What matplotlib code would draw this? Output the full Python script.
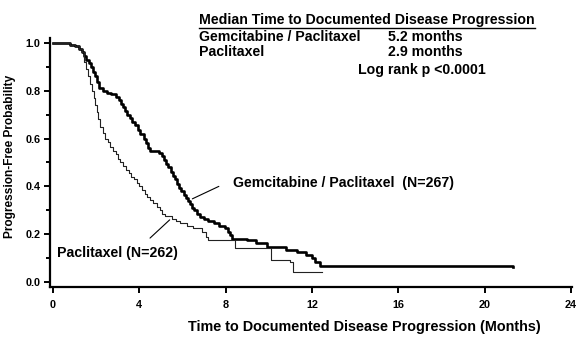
import matplotlib
matplotlib.use("Agg")
import matplotlib.pyplot as plt
from matplotlib.lines import Line2D
from matplotlib.ticker import MultipleLocator

plt.rcParams['font.family'] = ['Liberation Sans', 'DejaVu Sans']
plt.rcParams['font.weight'] = 'bold'

# Kaplan-Meier step curves (month, probability after the step)
gem_t = [0, 0.8, 1.0, 1.2, 1.35, 1.45, 1.55, 1.65, 1.75, 1.85, 1.95, 2.05, 2.15,
         2.3, 2.5, 2.7, 2.9, 3.05, 3.15, 3.25, 3.35, 3.45, 3.55, 3.65, 3.8, 3.95,
         4.05, 4.2, 4.3, 4.4, 4.5, 4.9, 5.05, 5.15, 5.25, 5.35, 5.45, 5.55, 5.65,
         5.75, 5.85, 5.95, 6.05, 6.15, 6.25, 6.35, 6.45, 6.55, 6.65, 6.8, 7.0,
         7.2, 7.45, 7.7, 7.95, 8.1, 8.2, 8.3, 9.0, 9.4, 9.9, 10.8, 11.3, 11.7,
         12.0, 12.15, 12.35, 21.3]
gem_s = [1.0, 0.992, 0.985, 0.975, 0.96, 0.945, 0.93, 0.915, 0.90, 0.88, 0.86,
         0.835, 0.81, 0.80, 0.79, 0.785, 0.775, 0.76, 0.745, 0.73, 0.715, 0.70,
         0.685, 0.67, 0.655, 0.635, 0.62, 0.60, 0.58, 0.56, 0.55, 0.54, 0.525,
         0.51, 0.495, 0.48, 0.46, 0.445, 0.43, 0.41, 0.395, 0.38, 0.365, 0.35,
         0.34, 0.325, 0.31, 0.30, 0.285, 0.27, 0.265, 0.255, 0.245, 0.235, 0.225,
         0.21, 0.195, 0.18, 0.175, 0.165, 0.145, 0.135, 0.125, 0.115, 0.10,
         0.085, 0.068, 0.065]

pac_t = [0, 0.8, 1.0, 1.2, 1.35, 1.45, 1.52, 1.6, 1.7, 1.8, 1.88, 1.95, 2.02,
         2.1, 2.18, 2.3, 2.42, 2.55, 2.65, 2.78, 2.9, 3.0, 3.1, 3.25, 3.4, 3.5,
         3.6, 3.75, 3.9, 4.0, 4.12, 4.25, 4.35, 4.5, 4.65, 4.8, 4.95, 5.05, 5.2,
         5.5, 5.7, 5.9, 6.2, 6.5, 6.9, 7.1, 7.2, 8.45, 10.1, 11.0, 11.1, 12.45]
pac_s = [1.0, 0.992, 0.985, 0.975, 0.96, 0.92, 0.89, 0.86, 0.83, 0.80, 0.77,
         0.74, 0.71, 0.68, 0.65, 0.625, 0.60, 0.585, 0.565, 0.55, 0.535, 0.515,
         0.50, 0.485, 0.47, 0.455, 0.44, 0.43, 0.415, 0.40, 0.385, 0.37, 0.355,
         0.345, 0.33, 0.315, 0.30, 0.285, 0.275, 0.265, 0.255, 0.245, 0.235,
         0.225, 0.21, 0.19, 0.176, 0.142, 0.092, 0.084, 0.042, 0.042]

x_ticks = [0, 4, 8, 12, 16, 20, 24]
y_ticks = [0.0, 0.2, 0.4, 0.6, 0.8, 1.0]

fig = plt.figure(figsize=(5.86, 3.43), dpi=100)
ax = fig.add_axes([0.0853, 0.163, 0.891, 0.726])

ax.step(gem_t, gem_s, where='post', color='black', lw=1.9)
ax.step(pac_t, pac_s, where='post', color='#222222', lw=0.8)

ax.set_xlim(-0.14, 24.05)
ax.set_ylim(-0.021, 1.02)
ax.set_xticks(x_ticks)
ax.set_yticks(y_ticks)
ax.set_yticklabels(['%.1f' % v for v in y_ticks])
ax.yaxis.set_minor_locator(MultipleLocator(0.1))
for s in ['top', 'right']:
    ax.spines[s].set_visible(False)
for s in ['left', 'bottom']:
    ax.spines[s].set_linewidth(1.6)
ax.tick_params(axis='both', which='both', direction='out', width=1.4, labelsize=7.8, colors='black')
ax.tick_params(axis='x', length=4, pad=5)
ax.tick_params(axis='y', which='major', length=4, pad=3)
ax.tick_params(axis='y', which='minor', length=3)

# curve labels with leader lines
ax.text(8.33, 0.414, 'Gemcitabine / Paclitaxel  (N=267)', fontsize=10.2, va='center', ha='left')
ax.annotate('', xy=(6.34, 0.343), xytext=(7.8, 0.405),
            arrowprops=dict(arrowstyle='-', lw=0.8, color='black'))
ax.text(0.185, 0.121, 'Paclitaxel (N=262)', fontsize=10.2, va='center', ha='left')
ax.annotate('', xy=(5.5, 0.268), xytext=(4.4, 0.176),
            arrowprops=dict(arrowstyle='-', lw=0.8, color='black'))

# median summary block
hdr = fig.text(0.3396, 0.9417, 'Median Time to Documented Disease Progression',
               fontsize=10.2, va='center', ha='left')
fig.text(0.3396, 0.892, 'Gemcitabine / Paclitaxel', fontsize=10.2, va='center')
fig.text(0.662, 0.892, '5.2 months', fontsize=10.2, va='center')
fig.text(0.3396, 0.848, 'Paclitaxel', fontsize=10.2, va='center')
fig.text(0.662, 0.848, '2.9 months', fontsize=10.2, va='center')
fig.text(0.611, 0.796, 'Log rank p <0.0001', fontsize=10.2, va='center')

fig.canvas.draw()
bb = hdr.get_window_extent().transformed(fig.transFigure.inverted())
fig.add_artist(Line2D([bb.x0, bb.x1], [bb.y0 - 0.004, bb.y0 - 0.004],
                      transform=fig.transFigure, color='black', lw=1.0))

fig.text(0.621, 0.047, 'Time to Documented Disease Progression (Months)',
         fontsize=10.4, va='center', ha='center')
fig.text(0.017, 0.545, 'Progression-Free Probability', fontsize=8.6,
         rotation=90, va='center', ha='center')

fig.savefig('out.png', dpi=100, facecolor='white')
